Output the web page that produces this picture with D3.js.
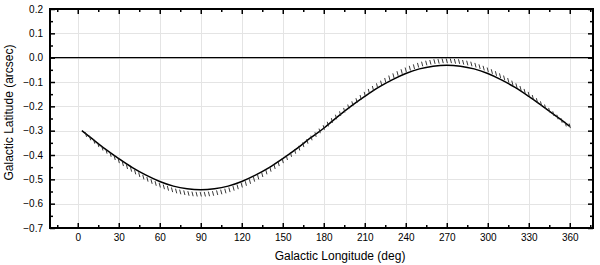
<!DOCTYPE html>
<html>
<head>
<meta charset="utf-8">
<script src="https://cdn.jsdelivr.net/npm/d3@7"></script>
<style>
  body { margin: 0; background: #fff; }
  svg { display: block; font-family: "Liberation Sans", Arial, sans-serif; }
</style>
</head>
<body>
<script>
// chart data
const curveLon = [3, 10, 20, 30, 40, 50, 60, 70, 80, 90, 100, 110, 120, 130, 140, 150, 160, 170, 180,
  190, 200, 210, 220, 230, 240, 250, 260, 270, 280, 290, 300, 310, 320, 330, 340, 350, 360];
const curveLat = [-0.300, -0.331, -0.375, -0.415, -0.452, -0.483, -0.509, -0.528, -0.539, -0.543,
  -0.539, -0.528, -0.509, -0.483, -0.452, -0.415, -0.375, -0.331, -0.290,
  -0.243, -0.199, -0.159, -0.122, -0.091, -0.065, -0.046, -0.035, -0.031, -0.035, -0.046,
  -0.065, -0.091, -0.122, -0.159, -0.199, -0.240, -0.282];

const hatchLon = [6, 9, 12, 15, 18, 21, 24, 27, 30, 33, 36, 39, 42, 45, 48, 51, 54, 57, 60,
  63, 66, 69, 72, 75, 78, 81, 84, 87, 90, 93, 96, 99, 102, 105, 108, 111, 114, 117, 120,
  123, 126, 129, 132, 135, 138, 141, 144, 147, 150, 153, 156, 159, 162, 165, 168, 171, 174, 177, 180,
  183, 186, 189, 192, 195, 198, 201, 204, 207, 210, 213, 216, 219, 222, 225, 228, 231, 234, 237, 240,
  243, 246, 249, 252, 255, 258, 261, 264, 267, 270, 273, 276, 279, 282, 285, 288, 291, 294, 297, 300,
  303, 306, 309, 312, 315, 318, 321, 324, 327, 330, 333, 336, 339, 342, 345, 348, 351, 354, 357, 360];
const hatchLat = [-0.316, -0.330, -0.344, -0.358, -0.372, -0.385, -0.398, -0.411, -0.424, -0.436,
  -0.448, -0.459, -0.470, -0.481, -0.491, -0.500, -0.509, -0.517, -0.524, -0.531, -0.537, -0.543,
  -0.548, -0.552, -0.555, -0.558, -0.560, -0.561, -0.561, -0.561, -0.560, -0.558, -0.555, -0.552,
  -0.548, -0.543, -0.537, -0.531, -0.524, -0.517, -0.509, -0.500, -0.491, -0.481, -0.470, -0.459,
  -0.448, -0.436, -0.424, -0.411, -0.398, -0.385, -0.372, -0.358, -0.344, -0.330, -0.316, -0.301, -0.287,
  -0.273, -0.258, -0.244, -0.230, -0.216, -0.202, -0.189, -0.176, -0.163, -0.150, -0.138, -0.126,
  -0.115, -0.104, -0.093, -0.083, -0.074, -0.065, -0.057, -0.050, -0.043, -0.037, -0.031, -0.026,
  -0.022, -0.019, -0.016, -0.015, -0.013, -0.013, -0.013, -0.015, -0.016, -0.019, -0.022, -0.026,
  -0.031, -0.037, -0.043, -0.050, -0.057, -0.065, -0.074, -0.083, -0.093, -0.104, -0.115, -0.126,
  -0.138, -0.150, -0.163, -0.176, -0.189, -0.202, -0.216, -0.230, -0.244, -0.258, -0.273, -0.280];

const xTicks = [0, 30, 60, 90, 120, 150, 180, 210, 240, 270, 300, 330, 360];
const xMinor = [-15, 15, 45, 75, 105, 135, 165, 195, 225, 255, 285, 315, 345, 375];
const yTicks = [0.2, 0.1, 0.0, -0.1, -0.2, -0.3, -0.4, -0.5, -0.6, -0.7];
const yMinor = [0.15, 0.05, -0.05, -0.15, -0.25, -0.35, -0.45, -0.55, -0.65];

// layout
const WIDTH = 600;
const HEIGHT = 265;
const LEFT = 50;
const RIGHT = 593;
const TOP = 9;
const BOT = 228;

const x = d3.scaleLinear().domain([-20.3, 377]).range([LEFT, RIGHT]);
const y = d3.scaleLinear().domain([-0.7, 0.2]).range([BOT, TOP]);

const svg = d3.select('body')
  .append('svg')
    .attr('width', WIDTH)
    .attr('height', HEIGHT);

// grid
const grid = svg.append('g').attr('stroke', '#e4e4e4').attr('stroke-width', 1);
grid.selectAll('.gx')
  .data(xTicks)
  .enter()
  .append('line')
    .attr('x1', d => Math.round(x(d)) + 0.5)
    .attr('x2', d => Math.round(x(d)) + 0.5)
    .attr('y1', TOP)
    .attr('y2', BOT);
grid.selectAll('.gy')
  .data(yTicks)
  .enter()
  .append('line')
    .attr('x1', LEFT)
    .attr('x2', RIGHT)
    .attr('y1', d => Math.round(y(d)) + 0.5)
    .attr('y2', d => Math.round(y(d)) + 0.5);

// zero line
svg.append('line')
    .attr('x1', LEFT)
    .attr('x2', RIGHT)
    .attr('y1', y(0))
    .attr('y2', y(0))
    .attr('stroke', '#000')
    .attr('stroke-width', 1.2);

// main curve
const line = d3.line()
    .x(d => x(d[0]))
    .y(d => y(d[1]))
    .curve(d3.curveCatmullRom);

svg.append('path')
    .datum(d3.zip(curveLon, curveLat))
    .attr('d', line)
    .attr('fill', 'none')
    .attr('stroke', '#000')
    .attr('stroke-width', 1.5);

// hatch marks
svg.append('g')
  .selectAll('line')
  .data(d3.zip(hatchLon, hatchLat))
  .enter()
  .append('line')
    .attr('x1', d => x(d[0]) - 0.6)
    .attr('x2', d => x(d[0]) + 0.6)
    .attr('y1', d => y(d[1]) - 2.3)
    .attr('y2', d => y(d[1]) + 2.3)
    .attr('stroke', '#222')
    .attr('stroke-width', 0.9);

// axes: ticks inward on all four sides
const axisBottom = d3.axisBottom(x)
    .tickValues(xTicks)
    .tickSize(-5)
    .tickSizeOuter(0)
    .tickPadding(6)
    .tickFormat(d3.format('d'));
svg.append('g')
    .attr('transform', `translate(0, ${BOT})`)
    .call(axisBottom);

svg.append('g')
    .attr('transform', `translate(0, ${BOT})`)
    .call(d3.axisBottom(x).tickValues(xMinor).tickSize(-3).tickSizeOuter(0).tickFormat(''));

svg.append('g')
    .attr('transform', `translate(0, ${TOP})`)
    .call(d3.axisTop(x).tickValues(xTicks).tickSize(-5).tickSizeOuter(0).tickFormat(''));
svg.append('g')
    .attr('transform', `translate(0, ${TOP})`)
    .call(d3.axisTop(x).tickValues(xMinor).tickSize(-3).tickSizeOuter(0).tickFormat(''));

const axisLeft = d3.axisLeft(y)
    .tickValues(yTicks)
    .tickSize(-5)
    .tickSizeOuter(0)
    .tickPadding(7)
    .tickFormat(d3.format('.1f'));
svg.append('g')
    .attr('transform', `translate(${LEFT}, 0)`)
    .call(axisLeft);
svg.append('g')
    .attr('transform', `translate(${LEFT}, 0)`)
    .call(d3.axisLeft(y).tickValues(yMinor).tickSize(-3).tickSizeOuter(0).tickFormat(''));

svg.append('g')
    .attr('transform', `translate(${RIGHT}, 0)`)
    .call(d3.axisRight(y).tickValues(yTicks).tickSize(-5).tickSizeOuter(0).tickFormat(''));
svg.append('g')
    .attr('transform', `translate(${RIGHT}, 0)`)
    .call(d3.axisRight(y).tickValues(yMinor).tickSize(-3).tickSizeOuter(0).tickFormat(''));

svg.selectAll('.domain').remove();
svg.selectAll('.tick line').attr('stroke', '#000').attr('stroke-width', 1.5);
svg.selectAll('.tick text')
    .attr('font-family', '"Liberation Sans", Arial, sans-serif')
    .attr('font-size', 10)
    .attr('fill', '#000');

// frame
svg.append('rect')
    .attr('x', LEFT)
    .attr('y', TOP)
    .attr('width', RIGHT - LEFT)
    .attr('height', BOT - TOP)
    .attr('fill', 'none')
    .attr('stroke', '#000')
    .attr('stroke-width', 2);

// axis titles
svg.append('text')
    .attr('x', 340)
    .attr('y', 260)
    .attr('text-anchor', 'middle')
    .attr('font-size', 12)
    .text('Galactic Longitude (deg)');

svg.append('text')
    .attr('transform', 'translate(13, 112.5) rotate(-90)')
    .attr('text-anchor', 'middle')
    .attr('font-size', 12)
    .text('Galactic Latitude (arcsec)');
</script>
</body>
</html>
